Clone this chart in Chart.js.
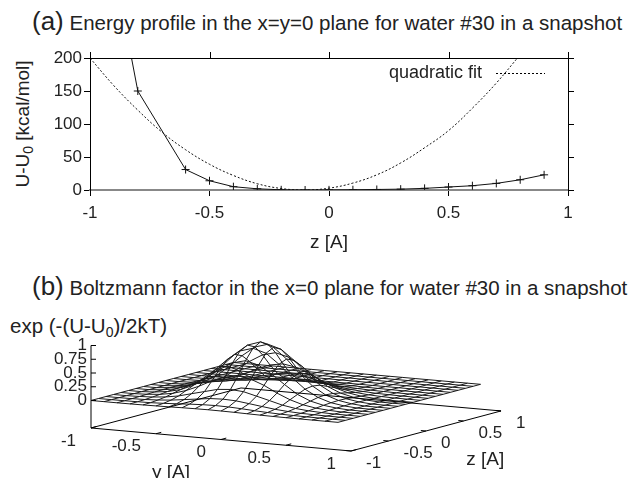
<!DOCTYPE html>
<html lang="en">
<head>
<meta charset="UTF-8">
<title>Energy profile and Boltzmann factor - water #30</title>
<script src="https://cdn.jsdelivr.net/npm/chart.js"></script>
<style>
  body { margin: 0; background: #fff; }
  #page { position: relative; width: 630px; height: 478px; overflow: hidden;
          font-family: "Liberation Sans", Arial, sans-serif; color: #222; }
  .txt { position: absolute; white-space: nowrap; font-size: 20px; line-height: 1; }
  .titulo { font-size: 20.5px; }
  .titulo .big { font-size: 26px; }
  .txt sub { font-size: 14px; vertical-align: -4px; line-height: 0; }
  canvas { position: absolute; left: 0; }
  #rotulo-y { left: 22px; top: 124px; font-size: 19px; transform: translate(-50%, -50%) rotate(-90deg); }
</style>
</head>
<body>
<div id="page">
  <div class="txt titulo" style="left:32px; top:8px;"><span class="big">(a)</span> Energy profile in the x=y=0 plane for water #30 in a snapshot</div>
  <div class="txt" id="rotulo-y">U-U<sub>0</sub> [kcal/mol]</div>
  <canvas id="graficoPerfil" width="630" height="260" style="top:0"></canvas>

  <div class="txt titulo" style="left:32px; top:273px;"><span class="big">(b)</span> Boltzmann factor in the x=0 plane for water #30 in a snapshot</div>
  <div class="txt" style="left:10px; top:316px; font-size:20.5px;">exp (-(U-U<sub>0</sub>)/2kT)</div>
  <canvas id="graficoBoltzmann" width="630" height="178" style="top:300px"></canvas>
</div>

<script>
// ---- (a) energy profile along z ----
const zPerfil = [-0.9, -0.8, -0.6, -0.5, -0.4, -0.3, -0.2, -0.1, 0, 0.1, 0.2, 0.3, 0.4, 0.5, 0.6, 0.7, 0.8, 0.9];
const energia = [340, 150, 31, 14, 5, 1.8, 0.3, 0, 0.2, 0.4, 0.8, 1.3, 2.5, 4.5, 6.5, 10, 15.5, 23];
// quadratic fit
const zAjuste = [-1, -0.9, -0.8, -0.7, -0.6, -0.5, -0.4, -0.3, -0.2, -0.1, 0, 0.1, 0.2, 0.3, 0.4, 0.5, 0.6, 0.7, 0.8];
const ajuste = [200, 158, 121, 88, 61, 39, 22, 9.5, 2.3, 0, 2.8, 10.5, 23, 41, 64, 90, 124, 162, 205];
const ticksZ = [-1, -0.5, 0, 0.5, 1];
const ticksU = [0, 50, 100, 150, 200];

// ---- (b) Boltzmann factor on the (y, z) grid ----
const yGrade = [-1, -0.9, -0.8, -0.7, -0.6, -0.5, -0.4, -0.3, -0.2, -0.1, 0, 0.1, 0.2, 0.3, 0.4, 0.5, 0.6, 0.7, 0.8, 0.9];
const zGrade = [-1, -0.9, -0.8, -0.7, -0.6, -0.5, -0.4, -0.3, -0.2, -0.1, 0, 0.1, 0.2, 0.3, 0.4, 0.5, 0.6, 0.7, 0.8, 0.9];
// one row per y value, one column per z value
const boltzmann = [
  [0,0,0,0,0,0,0,0,0,0,0,0,0,0,0,0,0,0,0,0],
  [0,0,0,0,0,0,0,0,0,0,0,0,0,0,0,0,0,0,0,0],
  [0,0.001,0.003,0.006,0.01,0.015,0.018,0.02,0.018,0.015,0.01,0.006,0.003,0.001,0,0,0,0,0,0],
  [0.001,0.004,0.008,0.017,0.029,0.044,0.055,0.06,0.055,0.044,0.029,0.017,0.008,0.004,0.001,0,0,0,0,0],
  [0.003,0.008,0.02,0.039,0.069,0.10,0.13,0.14,0.13,0.10,0.069,0.039,0.02,0.008,0.003,0,0,0,0,0],
  [0.006,0.017,0.039,0.078,0.14,0.20,0.26,0.28,0.26,0.20,0.14,0.078,0.039,0.017,0.006,0,0,0,0,0],
  [0.01,0.029,0.069,0.14,0.24,0.36,0.45,0.49,0.45,0.36,0.24,0.14,0.069,0.029,0.01,0,0,0,0,0],
  [0.015,0.044,0.10,0.20,0.36,0.53,0.67,0.73,0.67,0.53,0.36,0.20,0.10,0.044,0.015,0,0,0,0,0],
  [0.018,0.055,0.13,0.26,0.45,0.67,0.85,0.92,0.85,0.67,0.45,0.26,0.13,0.055,0.018,0,0,0,0,0],
  [0.02,0.06,0.14,0.28,0.49,0.73,0.92,1.00,0.92,0.73,0.49,0.28,0.14,0.06,0.02,0,0,0,0,0],
  [0.018,0.055,0.13,0.26,0.45,0.67,0.85,0.92,0.85,0.67,0.45,0.26,0.13,0.055,0.018,0,0,0,0,0],
  [0.015,0.044,0.10,0.20,0.36,0.53,0.67,0.73,0.67,0.53,0.36,0.20,0.10,0.044,0.015,0,0,0,0,0],
  [0.01,0.029,0.069,0.14,0.24,0.36,0.45,0.49,0.45,0.36,0.24,0.14,0.069,0.029,0.01,0,0,0,0,0],
  [0.006,0.017,0.039,0.078,0.14,0.20,0.26,0.28,0.26,0.20,0.14,0.078,0.039,0.017,0.006,0,0,0,0,0],
  [0.003,0.008,0.02,0.039,0.069,0.10,0.13,0.14,0.13,0.10,0.069,0.039,0.02,0.008,0.003,0,0,0,0,0],
  [0.001,0.004,0.008,0.017,0.029,0.044,0.055,0.06,0.055,0.044,0.029,0.017,0.008,0.004,0.001,0,0,0,0,0],
  [0,0.001,0.003,0.006,0.01,0.015,0.018,0.02,0.018,0.015,0.01,0.006,0.003,0.001,0,0,0,0,0,0],
  [0,0,0,0,0,0,0,0,0,0,0,0,0,0,0,0,0,0,0,0],
  [0,0,0,0,0,0,0,0,0,0,0,0,0,0,0,0,0,0,0,0],
  [0,0,0,0,0,0,0,0,0,0,0,0,0,0,0,0,0,0,0,0]
];
const ticksYb = [-1, -0.5, 0, 0.5, 1];
const ticksZb = [-1, -0.5, 0, 0.5, 1];
const ticksF = [0, 0.25, 0.5, 0.75, 1];

const FONTE = '"Liberation Sans", Arial, sans-serif';
const COR_TEXTO = '#222';

// border on top/right + mirrored ticks + legend of panel (a)
const molduraPlugin = {
  id: 'moldura',
  afterDraw(chart) {
    const { ctx, chartArea: a, scales } = chart;
    ctx.save();
    ctx.strokeStyle = '#000';
    ctx.lineWidth = 1;
    ctx.beginPath();
    ctx.moveTo(a.left, a.top + 0.5); ctx.lineTo(a.right, a.top + 0.5);
    ctx.moveTo(a.right + 0.5, a.top); ctx.lineTo(a.right + 0.5, a.bottom);
    ticksZ.forEach(v => {
      const x = Math.round(scales.x.getPixelForValue(v)) + 0.5;
      ctx.moveTo(x, a.top); ctx.lineTo(x, a.top - 6);
    });
    ticksU.forEach(v => {
      const y = Math.round(scales.y.getPixelForValue(v)) + 0.5;
      ctx.moveTo(a.right, y); ctx.lineTo(a.right + 6, y);
    });
    ctx.stroke();
    // legend for the fit
    const ds = chart.data.datasets[1];
    const ly = a.top + 15;
    ctx.font = '18px ' + FONTE;
    ctx.fillStyle = COR_TEXTO;
    ctx.textAlign = 'right';
    ctx.textBaseline = 'middle';
    ctx.fillText(ds.label, a.right - 86, ly);
    ctx.setLineDash(ds.borderDash);
    ctx.beginPath();
    ctx.moveTo(a.right - 72, ly + 0.5); ctx.lineTo(a.right - 23, ly + 0.5);
    ctx.stroke();
    ctx.restore();
  }
};

new Chart(document.getElementById('graficoPerfil').getContext('2d'), {
  type: 'line',
  data: {
    datasets: [{
      label: 'U-U0',
      data: zPerfil.map((z, i) => ({ x: z, y: energia[i] })),
      borderColor: '#111',
      borderWidth: 1,
      pointStyle: 'cross',
      pointRadius: 4,
      pointBorderWidth: 1,
      pointBorderColor: '#111',
      tension: 0
    }, {
      label: 'quadratic fit',
      data: zAjuste.map((z, i) => ({ x: z, y: ajuste[i] })),
      borderColor: '#111',
      borderWidth: 1,
      borderDash: [2, 2],
      pointRadius: 0,
      tension: 0.4
    }]
  },
  options: {
    responsive: false,
    animation: false,
    events: [],
    layout: { padding: { left: 30, right: 62, top: 58, bottom: 2 } },
    plugins: { legend: { display: false }, tooltip: { enabled: false } },
    scales: {
      x: {
        type: 'linear', min: -1, max: 1,
        afterFit(s) { s.height = 68; },
        afterBuildTicks(s) { s.ticks = ticksZ.map(v => ({ value: v })); },
        grid: { drawOnChartArea: false, tickLength: 6, color: '#000' },
        border: { color: '#888', width: 2 },
        ticks: { font: { size: 17, family: FONTE }, color: COR_TEXTO, padding: 7, maxRotation: 0,
                 callback: v => String(v) },
        title: { display: true, text: 'z [A]', font: { size: 19, family: FONTE }, color: COR_TEXTO }
      },
      y: {
        min: 0, max: 200,
        afterFit(s) { s.width = 60; },
        afterBuildTicks(s) { s.ticks = ticksU.map(v => ({ value: v })); },
        grid: { drawOnChartArea: false, tickLength: 6, color: '#000' },
        border: { color: '#000', width: 1 },
        ticks: { font: { size: 17, family: FONTE }, color: COR_TEXTO, padding: 2 }
      }
    }
  },
  plugins: [molduraPlugin]
});

// ---- (b) orthographic view of the (y, z, f) box ----
const vista = { uy: 1, uz: 0.577, vy: -0.0885, vz: 0.154, vf: 0.423, baseF: -0.5 };
function projeta(y, z, f) {
  return { x: y * vista.uy + z * vista.uz, y: y * vista.vy + z * vista.vz + f * vista.vf };
}

const superficie = [];
yGrade.forEach((y, i) => {
  superficie.push({ data: zGrade.map((z, j) => projeta(y, z, boltzmann[i][j])) });
});
zGrade.forEach((z, j) => {
  superficie.push({ data: yGrade.map((y, i) => projeta(y, z, boltzmann[i][j])) });
});
superficie.forEach(ds => Object.assign(ds, {
  showLine: true, borderColor: '#1a1a1a', borderWidth: 1, pointRadius: 0, tension: 0
}));

const eixos3dPlugin = {
  id: 'eixos3d',
  afterDraw(chart) {
    const { ctx, scales } = chart;
    const px = (y, z, f) => {
      const p = projeta(y, z, f);
      return [scales.x.getPixelForValue(p.x), scales.y.getPixelForValue(p.y)];
    };
    const b = vista.baseF;
    ctx.save();
    ctx.strokeStyle = '#000';
    ctx.lineWidth = 1;
    ctx.beginPath();
    const caixa = [px(-1, -1, b), px(1, -1, b), px(1, 1, b), px(-1, 1, b), px(-1, -1, b)];
    caixa.forEach((p, i) => i ? ctx.lineTo(p[0], p[1]) : ctx.moveTo(p[0], p[1]));
    const base = px(-1, -1, b), topo = px(-1, -1, 1);
    ctx.moveTo(base[0], base[1]); ctx.lineTo(topo[0], topo[1]);
    ticksF.forEach(f => { const p = px(-1, -1, f); ctx.moveTo(p[0], p[1]); ctx.lineTo(p[0] + 5, p[1]); });
    ticksYb.forEach(y => { const p = px(y, -1, b), q = px(y, -0.93, b); ctx.moveTo(p[0], p[1]); ctx.lineTo(q[0], q[1]); });
    ticksZb.forEach(z => { const p = px(1, z, b), q = px(0.96, z, b); ctx.moveTo(p[0], p[1]); ctx.lineTo(q[0], q[1]); });
    ctx.stroke();

    ctx.fillStyle = COR_TEXTO;
    ctx.font = '17px ' + FONTE;
    ctx.textBaseline = 'middle';
    ctx.textAlign = 'right';
    ticksF.forEach(f => { const p = px(-1, -1, f); ctx.fillText(String(f), p[0] - 4, p[1]); });
    ticksYb.forEach(y => { const p = px(y, -1, b); ctx.fillText(String(y), p[0] - 15, p[1] + 13); });
    ctx.textAlign = 'left';
    ticksZb.forEach(z => { const p = px(1, z, b); ctx.fillText(String(z), p[0] + 15, p[1] + 12); });
    ctx.font = '19px ' + FONTE;
    ctx.textAlign = 'center';
    const ly = px(0, -1, b), lz = px(1, 0.55, b);
    ctx.fillText('y [A]', ly[0] - 50, ly[1] + 33);
    ctx.fillText('z [A]', lz[0] + 18, lz[1] + 40);
    ctx.restore();
  }
};

new Chart(document.getElementById('graficoBoltzmann').getContext('2d'), {
  type: 'scatter',
  data: { datasets: superficie },
  options: {
    responsive: false,
    animation: false,
    events: [],
    layout: { padding: 0 },
    plugins: { legend: { display: false }, tooltip: { enabled: false } },
    scales: {
      x: { display: false, min: -2.277, max: 2.569 },
      y: { display: false, min: -0.6617, max: 0.7076 }
    }
  },
  plugins: [eixos3dPlugin]
});
</script>
</body>
</html>
